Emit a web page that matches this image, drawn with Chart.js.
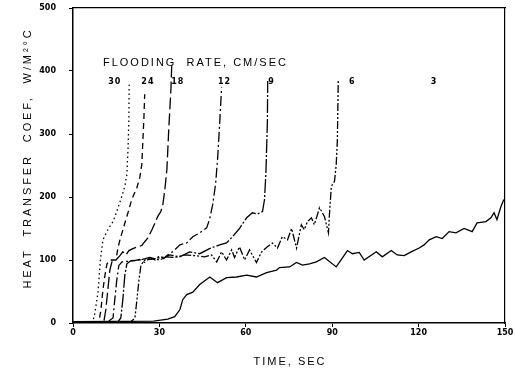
<!DOCTYPE html>
<html>
<head>
<meta charset="utf-8">
<script src="https://cdn.jsdelivr.net/npm/chart.js@4.4.0/dist/chart.umd.min.js"></script>
<style>
html,body{margin:0;padding:0;background:#fff;}
canvas{display:block;}
</style>
</head>
<body>
<canvas id="htc_graph" width="515" height="372"></canvas>
<script>
// flooding rates, cm/sec
const rates=['30','24','18','12','9','6','3'];

// time (sec) / heat transfer coef (W/m2C)
const t30=[0,5,6.9,7.6,8.7,9.5,10.4,12.1,13.9,15.2,16.6,18.0,18.7,19.1,19.4,19.5];
const h30=[2,2,2,16,49,100,132,148,161,177,196,217,236,275,323,378];

const t24=[0,9.0,9.7,10.4,11.1,11.8,12.8,14.9,15.6,16.3,17.7,19.1,20.4,22.2,23.2,23.9,24.2,24.6,24.9];
const h24=[2,2,21,53,76,94,100,100,119,132,154,175,196,215,231,252,283,323,363];

const t18=[0,10.7,11.4,12.1,12.8,13.5,14.9,16.3,17.3,18.4,19.4,20.8,22.5,23.9,24.9,26.0,27.4,28.4,29.4,30.5,31.2,31.9,32.6,33.3,34.0,34.3];
const h18=[2,2,21,53,84,97,100,107,113,108,115,118,121,123,129,135,148,158,169,177,188,212,244,312,371,411];

const t12=[0,12.1,13.9,14.5,15.2,15.9,17.0,21.5,23,25,26.7,28.5,30.1,31.5,32.6,34.6,37.1,39.5,41.6,44.0,46.4,47.4,48.5,49.5,50.2,50.9,51.6];
const h12=[2,2,8,37,68,91,97,99,101,96,104,100,107,102,107,113,124,127,137,143,151,164,188,220,260,315,374];

const t9=[0,15.6,16.6,17.3,18.0,18.7,20.1,23.2,26.7,30.1,33.6,37.1,40.5,44.0,47.4,50.9,53.3,55.4,57.8,60.3,62.3,64.1,65.8,66.5,67.0,67.5,67.6];
const h9=[2,2,8,37,76,94,99,100,104,100,108,105,113,110,118,124,127,137,150,167,175,173,177,196,240,320,384];

const t6=[0,20.1,21.5,22.2,22.9,23.6,24.9,28.4,31.9,35.3,38.8,42.3,45.7,48.1,49.9,51.6,53.3,55.1,56.1,57.8,59.6,61.3,63.7,65.5,67.5,69.3,71.0,72.7,74.5,75.9,77.6,79.3,80.3,81.4,82.8,83.8,85.6,87.3,88.7,89.0,89.7,90.8,91.4,91.8,92.1];
const h6=[2,2,8,37,68,92,100,102,105,104,108,107,105,108,97,113,100,116,104,121,100,116,96,113,121,127,119,137,132,150,119,156,148,161,167,156,183,169,143,169,217,225,252,291,384];

const t3=[0,28,32.9,35.3,37.1,38.1,39.5,41.6,44.0,47.5,50.2,53.3,56.8,60.3,63.7,67.2,70.7,71.7,75.2,77.6,79.7,82.1,84.5,87.3,91.4,95.3,97.0,99.4,101.1,105.3,107.4,110.5,112.6,115.0,117.4,120.2,121.9,123.7,126.1,128.2,130.6,133.0,135.8,138.6,140.3,143.4,145.1,146.2,147.2,148.6,149.6];
const h3=[2,3,6,10,21,37,45,49,61,73,64,72,73,76,73,80,84,88,89,96,92,94,97,104,89,115,110,112,100,113,105,115,108,107,113,119,124,132,137,134,145,143,150,145,159,161,167,175,164,185,196];

const xTicks=[0,30,60,90,120,150];
const yTicks=[0,100,200,300,400,500];

const times=[t30,t24,t18,t12,t9,t6,t3];
const coefs=[h30,h24,h18,h12,h9,h6,h3];
const dashes=[[1.5,3],[6,4],[12,4],[10,3,2,3],[14,2,2,2],[8,2,2,2,2,2],[]];

let datasets=[];
for(let i=0;i<rates.length;i++){
    let pts=[];
    for(let j=0;j<times[i].length;j++){
        pts.push({x:times[i][j],y:coefs[i][j]});
    }
    datasets.push({
        label:rates[i]+' cm/sec',
        data:pts,
        borderColor:'#000',
        borderWidth:1.3,
        borderDash:dashes[i],
        pointRadius:0,
        tension:0,
        fill:false
    });
}

// titles + curve labels, drawn with letter spacing
const textPlugin={
    id:'text_labels',
    afterDraw(chart){
        const ctx=chart.ctx;
        const xs=chart.scales.x, ys=chart.scales.y;
        ctx.save();
        ctx.fillStyle='#000';
        ctx.textBaseline='middle';

        ctx.font='11px "Liberation Sans"';
        ctx.letterSpacing='2px';
        ctx.textAlign='left';
        ctx.fillText('FLOODING  RATE, CM/SEC',xs.getPixelForValue(10.4),ys.getPixelForValue(412));

        ctx.font='bold 8px "DejaVu Sans"';
        ctx.letterSpacing='1px';
        ctx.textAlign='center';
        const labelTimes=[14.5,26.0,36.4,52.6,68.9,97,125.4];
        for(let i=0;i<rates.length;i++){
            ctx.fillText(rates[i],xs.getPixelForValue(labelTimes[i]),ys.getPixelForValue(382));
        }

        ctx.font='11px "Liberation Sans"';
        ctx.letterSpacing='2px';
        ctx.fillText('TIME, SEC',290,362);

        ctx.translate(28,158);
        ctx.rotate(-Math.PI/2);
        ctx.letterSpacing='2.9px';
        ctx.fillText('HEAT  TRANSFER  COEF,  W/M²°C',0,0);
        ctx.restore();
    }
};

function noPad(s){
    s.paddingTop=0;s.paddingBottom=0;s.paddingLeft=0;s.paddingRight=0;
}

const graph=document.getElementById('htc_graph').getContext('2d');

new Chart(graph,{
    type:'line',
    data:{datasets:datasets},
    plugins:[textPlugin],
    options:{
        responsive:false,
        animation:false,
        devicePixelRatio:1,
        layout:{padding:{left:0,right:10,top:8,bottom:0}},
        plugins:{legend:{display:false},tooltip:{enabled:false}},
        scales:{
            x:{
                type:'linear',
                position:'bottom',
                min:0,max:150,
                afterBuildTicks:(s)=>{s.ticks=xTicks.map(v=>({value:v}));},
                afterFit:(s)=>{s.height=49;noPad(s);},
                ticks:{color:'#000',font:{size:8,weight:'bold',family:'DejaVu Sans'},padding:1,autoSkip:false,maxRotation:0},
                grid:{drawOnChartArea:false,color:'#000',tickLength:4},
                border:{color:'#000',width:1.5}
            },
            y:{
                type:'linear',
                position:'left',
                min:0,max:500,
                afterBuildTicks:(s)=>{s.ticks=yTicks.map(v=>({value:v}));},
                afterFit:(s)=>{s.width=73;noPad(s);},
                ticks:{color:'#000',font:{size:8,weight:'bold',family:'DejaVu Sans'},padding:13},
                grid:{drawOnChartArea:false,color:'#000',tickLength:4},
                border:{color:'#000',width:1.5}
            },
            x2:{
                type:'linear',
                position:'top',
                min:0,max:150,
                afterFit:(s)=>{s.height=0;noPad(s);},
                ticks:{display:false},
                grid:{display:false},
                border:{color:'#000',width:1.3}
            },
            y2:{
                type:'linear',
                position:'right',
                min:0,max:500,
                afterFit:(s)=>{s.width=0;noPad(s);},
                ticks:{display:false},
                grid:{display:false},
                border:{color:'#000',width:1.2,dash:[10,3,2,3]}
            }
        }
    }
});
</script>
</body>
</html>
